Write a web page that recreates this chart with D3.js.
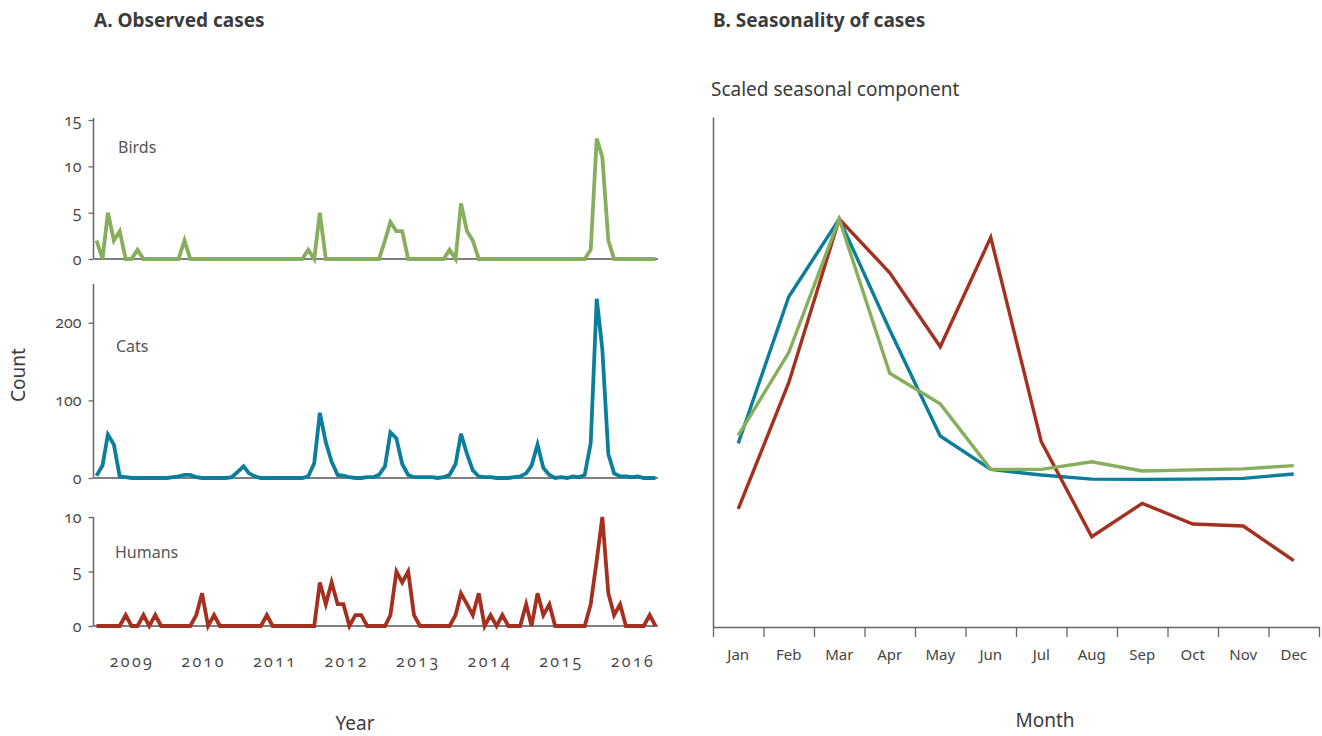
<!DOCTYPE html>
<html>
<head>
<meta charset="utf-8">
<script src="https://cdn.jsdelivr.net/npm/d3@7"></script>
<style>
  html, body { margin: 0; padding: 0; background: #fff; }
  svg { display: block; font-family: "Noto Sans", "Open Sans", sans-serif; }
  .title { font-weight: bold; font-size: 19px; fill: #3b3b3b; }
  .axis-title { font-size: 19px; fill: #3b3b3b; }
  .tick-label { font-family: "Open Sans", sans-serif; font-size: 16px; fill: #444; font-feature-settings: "onum" 1; font-variant-numeric: oldstyle-nums; }
  .species { font-size: 16px; fill: #555; }
  .year { font-family: "Open Sans", sans-serif; font-size: 16px; fill: #444; letter-spacing: 2.4px; font-feature-settings: "onum" 1; font-variant-numeric: oldstyle-nums; }
  .month { font-size: 15px; fill: #444; }
</style>
</head>
<body>
<svg id="chart" width="1322" height="736"></svg>
<script>
// Monthly observed case counts, January 2009 to December 2016
const monthsStart = new Date(2009, 0, 1);
const birds = [
  2, 0, 5, 2, 3, 0, 0, 1, 0, 0, 0, 0, 0, 0, 0, 2, 0, 0, 0, 0, 0, 0, 0, 0,
  0, 0, 0, 0, 0, 0, 0, 0, 0, 0, 0, 0, 1, 0, 5, 0, 0, 0, 0, 0, 0, 0, 0, 0,
  0, 2, 4, 3, 3, 0, 0, 0, 0, 0, 0, 0, 1, 0, 6, 3, 2, 0, 0, 0, 0, 0, 0, 0,
  0, 0, 0, 0, 0, 0, 0, 0, 0, 0, 0, 0, 1, 13, 11, 2, 0, 0, 0, 0, 0, 0, 0, 0
];
const cats = [
  3, 16, 56, 43, 2, 1, 0, 0, 0, 0, 0, 0, 0, 1, 2, 4, 4, 1, 0, 0, 0, 0, 0, 1,
  8, 15, 6, 2, 0, 0, 0, 0, 0, 0, 0, 0, 2, 19, 84, 46, 21, 4, 3, 1, 0, 0, 1, 1,
  4, 15, 59, 51, 18, 4, 1, 1, 1, 1, 0, 1, 4, 18, 57, 31, 10, 2, 1, 1, 0, 0, 0, 1,
  2, 6, 16, 43, 13, 4, 0, 1, 0, 2, 1, 4, 45, 231, 166, 31, 6, 2, 2, 1, 2, 0, 0, 0
];
const humans = [
  0, 0, 0, 0, 0, 1, 0, 0, 1, 0, 1, 0, 0, 0, 0, 0, 0, 1, 3, 0, 1, 0, 0, 0,
  0, 0, 0, 0, 0, 1, 0, 0, 0, 0, 0, 0, 0, 0, 4, 2, 4, 2, 2, 0, 1, 1, 0, 0,
  0, 0, 1, 5, 4, 5, 1, 0, 0, 0, 0, 0, 0, 1, 3, 2, 1, 3, 0, 1, 0, 1, 0, 0,
  0, 2, 0, 3, 1, 2, 0, 0, 0, 0, 0, 0, 2, 6, 10, 3, 1, 2, 0, 0, 0, 0, 1, 0
];
const yearLabels = ["2009", "2010", "2011", "2012", "2013", "2014", "2015", "2016"];

// Scaled seasonal component by calendar month
const monthLabels = ["Jan", "Feb", "Mar", "Apr", "May", "Jun", "Jul", "Aug", "Sep", "Oct", "Nov", "Dec"];
const seasonCats   = [0.120, 0.695, 1.000, 0.565, 0.149, 0.018, -0.004, -0.020, -0.021, -0.020, -0.017, 0.000];
const seasonBirds  = [0.151, 0.476, 1.000, 0.395, 0.275, 0.018, 0.018, 0.048, 0.012, 0.016, 0.020, 0.033];
const seasonHumans = [-0.137, 0.358, 1.000, 0.789, 0.499, 0.928, 0.127, -0.246, -0.115, -0.196, -0.204, -0.340];

const colors = { birds: "#86ae5c", cats: "#0b7e9c", humans: "#a5301f" };
const axisColor = "#666";

const svg = d3.select("#chart");

// ---------- Panel A: observed cases ----------
const dates = birds.map((_, i) => d3.timeMonth.offset(monthsStart, i));
const x = d3.scaleTime()
  .domain([dates[0], dates[dates.length - 1]])
  .range([96.5, 655.5]);

const panels = [
  { name: "Birds",  values: birds,  color: colors.birds,  domain: [0, 15],  range: [259, 120], ticks: [0, 5, 10, 15], top: 118, labelY: 147, labelX: 118 },
  { name: "Cats",   values: cats,   color: colors.cats,   domain: [0, 250], range: [478, 284], ticks: [0, 100, 200],  top: 284, labelY: 346, labelX: 116 },
  { name: "Humans", values: humans, color: colors.humans, domain: [0, 10],  range: [626, 517], ticks: [0, 5, 10],     top: 517, labelY: 552, labelX: 115 }
];

svg.append("text").attr("class", "title").attr("x", 94).attr("y", 27).text("A. Observed cases");

panels.forEach(p => {
  const y = d3.scaleLinear().domain(p.domain).range(p.range);
  const g = svg.append("g");

  // zero baseline
  g.append("line")
    .attr("x1", 94).attr("x2", 658)
    .attr("y1", y(0)).attr("y2", y(0))
    .attr("stroke", "#555").attr("stroke-width", 1.3);

  // vertical axis
  const axis = d3.axisLeft(y).tickValues(p.ticks).tickSize(5).tickSizeOuter(0).tickPadding(7);
  const ag = g.append("g").attr("transform", "translate(93.5,0)").call(axis);
  ag.select(".domain").attr("stroke", axisColor).attr("stroke-width", 1.5)
    .attr("d", `M0,${p.top}V${y(0)}`);
  ag.selectAll(".tick line").attr("stroke", axisColor).attr("stroke-width", 1.3);
  ag.selectAll(".tick text").attr("class", "tick-label").attr("font-size", null).attr("font-family", null).attr("fill", null);

  g.append("path")
    .datum(p.values)
    .attr("fill", "none")
    .attr("stroke", p.color)
    .attr("stroke-width", 3.8)
    .attr("stroke-linejoin", "miter")
    .attr("d", d3.line().x((d, i) => x(dates[i])).y(d => y(d)));

  g.append("text").attr("class", "species")
    .attr("x", p.labelX).attr("y", p.labelY).attr("dy", "0.35em")
    .text(p.name);
});

// year labels along the bottom
const yearPos = d3.scalePoint().domain(yearLabels).range([132, 633]);
svg.append("g").selectAll("text").data(yearLabels).join("text")
  .attr("class", "year")
  .attr("x", d => yearPos(d)).attr("y", 667)
  .attr("text-anchor", "middle")
  .text(d => d);

svg.append("text").attr("class", "axis-title")
  .attr("x", 355).attr("y", 730).attr("text-anchor", "middle").text("Year");

svg.append("text").attr("class", "axis-title")
  .attr("transform", "translate(25,375) rotate(-90)")
  .attr("text-anchor", "middle").text("Count");

// ---------- Panel B: seasonality ----------
svg.append("text").attr("class", "title").attr("x", 713).attr("y", 27).text("B. Seasonality of cases");
svg.append("text").attr("class", "axis-title").attr("x", 711).attr("y", 96).text("Scaled seasonal component");

const xb = d3.scaleBand().domain(monthLabels).range([713, 1319]);
const yb = d3.scaleLinear().domain([-0.6, 1.4]).range([627, 117]);

const gb = svg.append("g");
// month tick marks at band boundaries
const tickScale = d3.scaleLinear().domain([0, 12]).range(xb.range());
const xAxisB = d3.axisBottom(tickScale).tickValues(d3.range(13)).tickSize(10).tickSizeOuter(0).tickFormat("");
const xag = gb.append("g").attr("transform", `translate(0,${yb.range()[0]})`).call(xAxisB);
xag.select(".domain").attr("stroke", axisColor).attr("stroke-width", 1.5);
xag.selectAll(".tick line").attr("stroke", axisColor).attr("stroke-width", 1.3);

gb.append("g").selectAll("text").data(monthLabels).join("text")
  .attr("class", "month")
  .attr("x", d => xb(d) + xb.bandwidth() / 2).attr("y", 660)
  .attr("text-anchor", "middle")
  .text(d => d);

const yAxisB = d3.axisLeft(yb).tickValues([]).tickSizeOuter(0);
const yag = gb.append("g").attr("transform", "translate(713,0)").call(yAxisB);
yag.select(".domain").attr("stroke", axisColor).attr("stroke-width", 1.5);

const seasonLine = d3.line()
  .x((d, i) => xb(monthLabels[i]) + xb.bandwidth() / 2)
  .y(d => yb(d));

[
  { values: seasonCats, color: colors.cats },
  { values: seasonHumans, color: colors.humans },
  { values: seasonBirds, color: colors.birds }
].forEach(s => {
  gb.append("path").datum(s.values)
    .attr("fill", "none")
    .attr("stroke", s.color)
    .attr("stroke-width", 3.4)
    .attr("stroke-linejoin", "miter")
    .attr("d", seasonLine);
});

svg.append("text").attr("class", "axis-title")
  .attr("x", 1045).attr("y", 727).attr("text-anchor", "middle").text("Month");
</script>
</body>
</html>
